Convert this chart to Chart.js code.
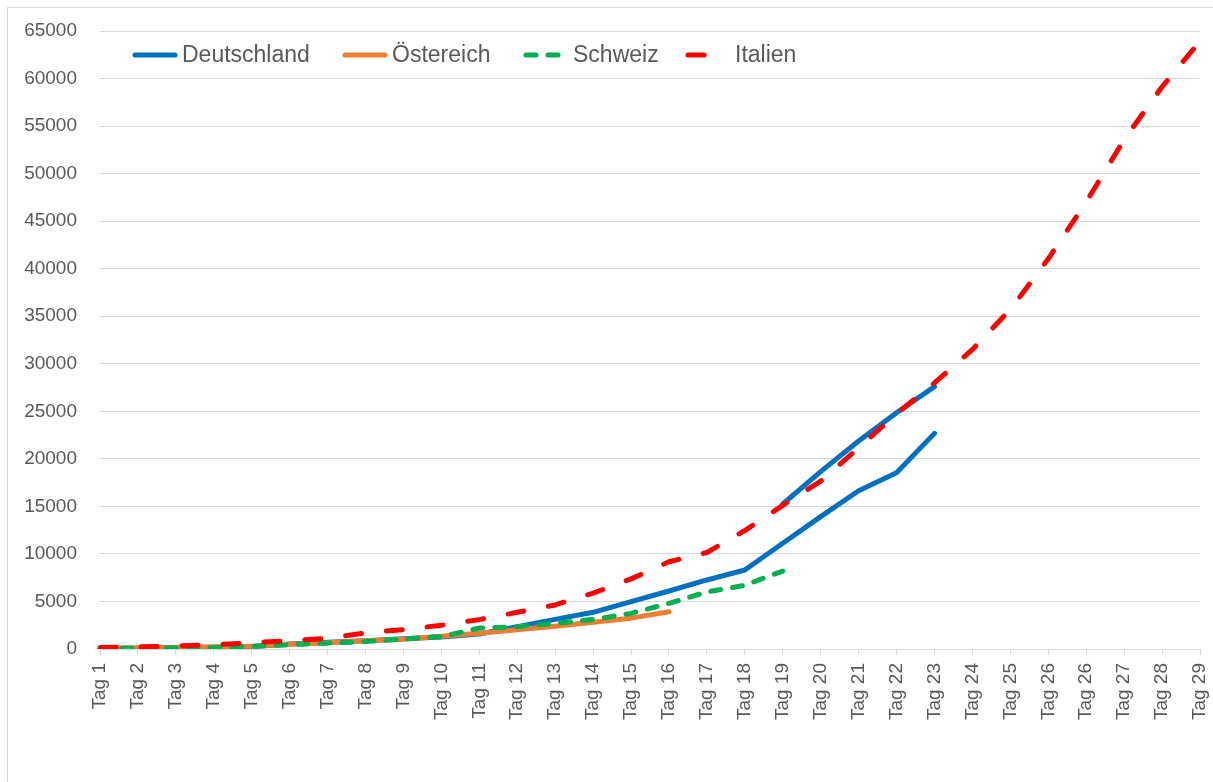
<!DOCTYPE html>
<html>
<head>
<meta charset="utf-8">
<script src="https://cdn.jsdelivr.net/npm/chart.js@4"></script>
<style>
  html, body { margin: 0; padding: 0; background: #fff; overflow: hidden; }
  #wrap { position: relative; width: 1213px; height: 782px; }
  #frame { position: absolute; left: 7px; top: 7px; width: 1220px; height: 790px;
           border-left: 1px solid #d9d9d9; border-top: 1px solid #d9d9d9; pointer-events: none; }
  canvas { position: absolute; left: 0; top: 0; }
</style>
</head>
<body>
<div id="wrap">
  <canvas id="chart" width="1213" height="782"></canvas>
  <div id="frame"></div>
</div>
<script>
// ── Data ──────────────────────────────────────────────────────────────────────
const DAYS = [
  'Tag 1', 'Tag 2', 'Tag 3', 'Tag 4', 'Tag 5', 'Tag 6', 'Tag 7', 'Tag 8', 'Tag 9', 'Tag 10',
  'Tag 11', 'Tag 12', 'Tag 13', 'Tag 14', 'Tag 15', 'Tag 16', 'Tag 17', 'Tag 18', 'Tag 19', 'Tag 20',
  'Tag 21', 'Tag 22', 'Tag 23', 'Tag 24', 'Tag 25', 'Tag 26', 'Tag 26', 'Tag 27', 'Tag 28', 'Tag 29',
];

const DEUTSCHLAND = [
  30, 40, 60, 120, 250, 520, 700, 880, 1090, 1250,
  1580, 2350, 3120, 3860, 4980, 6100, 7260, 8310, 11120, 13920,
  16650, 18540, 22680,
];
// second blue line (no legend entry), Tag 19 – Tag 23
const DEUTSCHLAND_2 = [
  null, null, null, null, null, null, null, null, null, null,
  null, null, null, null, null, null, null, null, 15250, 18650,
  21880, 24850, 27590,
];
const OESTERREICH = [
  104, 131, 182, 246, 302, 504, 655, 860, 1018, 1332,
  1646, 2013, 2388, 2814, 3244, 3924,
];
const SCHWEIZ = [
  50, 80, 100, 140, 280, 450, 620, 780, 1050, 1300,
  2200, 2350, 2700, 3100, 3750, 4800, 6000, 6700, 8200,
];
const ITALIEN = [
  155, 229, 322, 453, 655, 888, 1128, 1694, 2036, 2502,
  3089, 3858, 4636, 5883, 7375, 9172, 10149, 12462, 15113, 17660,
  21157, 24747, 27980, 31506, 35713, 41035, 47021, 53578, 59138, 63927,
];

const Y_MAX  = 65000;
const Y_STEP = 5000;

// ── Style ─────────────────────────────────────────────────────────────────────
const GRID = '#d9d9d9';
const TICK = '#595959';
const FONT = { family: '"Liberation Sans", Arial, sans-serif', size: 19 };
const COLOR = {
  deutschland: '#0070C0',
  oesterreich: '#ED7D31',
  schweiz:     '#00B050',
  italien:     '#FF0000',
};

function lineDS(label, data, color, dash, order) {
  return {
    label, data,
    borderColor: color,
    backgroundColor: color,
    borderWidth: 5,
    borderDash: dash,
    borderCapStyle: 'round',
    borderJoinStyle: 'round',
    pointRadius: 0, pointHoverRadius: 0,
    tension: 0, fill: false, spanGaps: false,
    order,
  };
}

// ── Legend drawn inside the plot area, Excel-style ───────────────────────────
const LEGEND_ITEMS = ['Deutschland', 'Östereich', 'Schweiz', 'Italien'];
const LEGEND_X     = [132, 342, 523, 685];
const LEGEND_Y     = 55;

const insideLegend = {
  id: 'insideLegend',
  afterDraw(chart) {
    const ctx = chart.ctx;
    ctx.save();
    ctx.font = '23px "Liberation Sans", Arial, sans-serif';
    ctx.textBaseline = 'middle';
    ctx.textAlign = 'left';
    LEGEND_ITEMS.forEach((name, i) => {
      const ds = chart.data.datasets.find(d => d.label === name);
      if (!ds) return;
      const x0 = LEGEND_X[i];
      ctx.strokeStyle = ds.borderColor;
      ctx.lineWidth = ds.borderWidth;
      ctx.lineCap = 'round';
      ctx.setLineDash(ds.borderDash || []);
      ctx.beginPath();
      ctx.moveTo(x0 + 3, LEGEND_Y);
      ctx.lineTo(x0 + 43, LEGEND_Y);
      ctx.stroke();
      ctx.setLineDash([]);
      ctx.fillStyle = TICK;
      ctx.fillText(name, x0 + 50, LEGEND_Y + 1);
    });
    ctx.restore();
  },
};

// ── Chart ─────────────────────────────────────────────────────────────────────
new Chart(document.getElementById('chart').getContext('2d'), {
  type: 'line',
  data: {
    labels: DAYS,
    datasets: [
      lineDS('Deutschland', DEUTSCHLAND, COLOR.deutschland, [], 3),
      lineDS('Deutschland 2', DEUTSCHLAND_2, COLOR.deutschland, [], 3),
      lineDS('Östereich', OESTERREICH, COLOR.oesterreich, [], 2),
      lineDS('Schweiz', SCHWEIZ, COLOR.schweiz, [10, 12], 1),
      lineDS('Italien', ITALIEN, COLOR.italien, [16, 25], 0),
    ],
  },
  options: {
    responsive: false, animation: false,
    layout: { padding: { left: 0, top: 31, right: 13, bottom: 0 } },
    plugins: {
      legend: { display: false },
      tooltip: { enabled: false },
    },
    scales: {
      x: {
        afterFit: s => { s.height = 133; s.paddingLeft = 0; s.paddingRight = 0; },
        ticks: {
          color: TICK, font: FONT, autoSkip: false,
          minRotation: 90, maxRotation: 90, padding: 8,
        },
        grid: { drawOnChartArea: false, drawTicks: true, tickLength: 6, color: GRID },
        border: { color: GRID, width: 1 },
      },
      y: {
        afterFit: s => { s.width = 100; s.paddingTop = 0; s.paddingBottom = 0; },
        min: 0, max: Y_MAX,
        ticks: {
          stepSize: Y_STEP, color: TICK, font: FONT, padding: 23,
          callback: v => String(v),
        },
        grid: { color: GRID, lineWidth: 1, drawTicks: false },
        border: { display: false },
      },
    },
  },
  plugins: [insideLegend],
});
</script>
</body>
</html>
